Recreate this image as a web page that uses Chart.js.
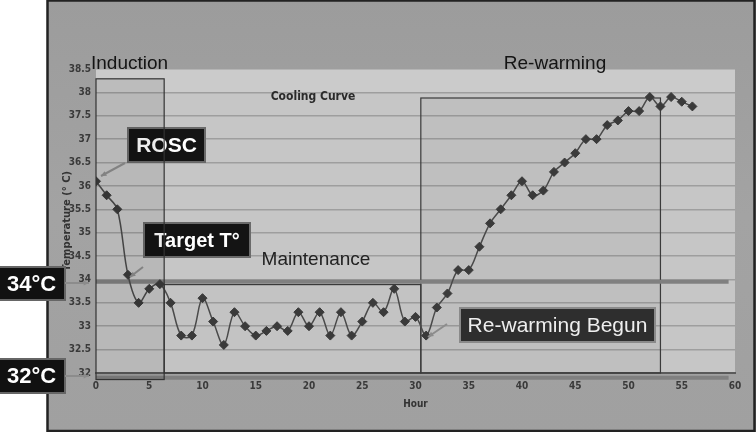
<!DOCTYPE html>
<html>
<head>
<meta charset="utf-8">
<script src="https://cdn.jsdelivr.net/npm/chart.js@4.4.0/dist/chart.umd.min.js"></script>
<style>
  html, body { margin: 0; padding: 0; background: #fff; }
  #wrap { width: 756px; height: 432px; position: relative; }
</style>
</head>
<body>
<div id="wrap"><canvas id="chart" width="756" height="432"></canvas></div>
<script>
// Cooling curve - temperature per hour
const hours = [0, 1, 2, 3, 4, 5, 6, 7, 8, 9, 10, 11, 12, 13, 14, 15, 16, 17, 18, 19, 20,
  21, 22, 23, 24, 25, 26, 27, 28, 29, 30, 31, 32, 33, 34, 35, 36, 37, 38, 39, 40,
  41, 42, 43, 44, 45, 46, 47, 48, 49, 50, 51, 52, 53, 54, 55, 56];
const temps = [36.1, 35.8, 35.5, 34.1, 33.5, 33.8, 33.9, 33.5, 32.8, 32.8, 33.6,
  33.1, 32.6, 33.3, 33.0, 32.8, 32.9, 33.0, 32.9, 33.3, 33.0,
  33.3, 32.8, 33.3, 32.8, 33.1, 33.5, 33.3, 33.8, 33.1, 33.2,
  32.8, 33.4, 33.7, 34.2, 34.2, 34.7, 35.2, 35.5, 35.8, 36.1,
  35.8, 35.9, 36.3, 36.5, 36.7, 37.0, 37.0, 37.3, 37.4, 37.6,
  37.6, 37.9, 37.7, 37.9, 37.8, 37.7];

const xMin = 0, xMax = 60, xStep = 5;
const yMin = 32, yMax = 38.5, yStep = 0.5;

// phase boxes (hours / degrees)
const phaseNames = ['Induction', 'Maintenance', 'Re-warming'];
const phaseStart = [0, 6.4, 30.5];
const phaseEnd = [6.4, 30.5, 53];
const phaseTop = [38.29, 33.89, 37.88];
const phaseBottom = [31.86, 32, 32];

// target temperature lines
const refLines = [33.95, 31.96];

const FONT = "'Liberation Sans', Arial, sans-serif";
const NARROW = "'Liberation Sans Narrow', 'DejaVu Sans Condensed', sans-serif";

function callout(ctx, x, y, w, h, text, font, fill, stroke, color) {
  ctx.save();
  ctx.fillStyle = fill;
  ctx.fillRect(x, y, w, h);
  ctx.strokeStyle = stroke;
  ctx.lineWidth = 2;
  ctx.strokeRect(x, y, w, h);
  ctx.fillStyle = color;
  ctx.font = font;
  ctx.textAlign = 'center';
  ctx.textBaseline = 'middle';
  ctx.fillText(text, x + w / 2, y + h / 2 + 1);
  ctx.restore();
}

function arrow(ctx, x1, y1, x2, y2) {
  ctx.save();
  ctx.strokeStyle = '#8c8c8c';
  ctx.fillStyle = '#8c8c8c';
  ctx.lineWidth = 2;
  ctx.beginPath();
  ctx.moveTo(x1, y1);
  ctx.lineTo(x2, y2);
  ctx.stroke();
  const a = Math.atan2(y2 - y1, x2 - x1);
  ctx.beginPath();
  ctx.moveTo(x2, y2);
  ctx.lineTo(x2 - 6 * Math.cos(a - 0.45), y2 - 6 * Math.sin(a - 0.45));
  ctx.lineTo(x2 - 6 * Math.cos(a + 0.45), y2 - 6 * Math.sin(a + 0.45));
  ctx.closePath();
  ctx.fill();
  ctx.restore();
}

const backdrop = {
  id: 'backdrop',
  beforeDraw(chart) {
    const { ctx, chartArea: a } = chart;
    ctx.save();
    ctx.fillStyle = '#fff';
    ctx.fillRect(0, 0, 756, 432);
    const g = ctx.createLinearGradient(0, 0, 0, 432);
    g.addColorStop(0, '#9c9c9c');
    g.addColorStop(0.5, '#a3a3a3');
    g.addColorStop(1, '#a0a0a0');
    ctx.fillStyle = g;
    ctx.fillRect(47, 0, 709, 432);
    ctx.fillStyle = '#c6c6c6';
    ctx.fillRect(a.left, a.top, a.right - a.left, a.bottom - a.top);
    ctx.fillStyle = '#cbcbcb';
    ctx.fillRect(a.left, a.top, a.right - a.left, chart.scales.y.getPixelForValue(38) - a.top);
    // frame
    ctx.strokeStyle = '#222';
    ctx.lineWidth = 2.5;
    ctx.strokeRect(47.5, 0.5, 707, 430.5);
    ctx.restore();
  },
  beforeDatasetsDraw(chart) {
    const { ctx, scales: { x, y } } = chart;
    ctx.save();
    // maintenance + re-warming boxes
    [1, 2].forEach(i => {
      const l = x.getPixelForValue(phaseStart[i]), r = x.getPixelForValue(phaseEnd[i]);
      const t = y.getPixelForValue(phaseTop[i]), b = y.getPixelForValue(phaseBottom[i]);
      ctx.fillStyle = i === 2 ? 'rgba(0,0,0,0.035)' : 'rgba(0,0,0,0.01)';
      ctx.fillRect(l, t, r - l, b - t);
      ctx.strokeStyle = '#3a3a3a';
      ctx.lineWidth = 1.2;
      ctx.strokeRect(l, t, r - l, b - t);
    });
    // 34 / 32 lines
    refLines.forEach((v, i) => {
      ctx.strokeStyle = '#808080';
      ctx.lineWidth = 4;
      ctx.beginPath();
      ctx.moveTo(x.getPixelForValue(0), y.getPixelForValue(v) + (i === 1 ? 3 : 0));
      ctx.lineTo(x.getPixelForValue(59.4), y.getPixelForValue(v) + (i === 1 ? 3 : 0));
      ctx.stroke();
    });
    ctx.restore();
  },
  afterDatasetsDraw(chart) {
    const { ctx, scales: { x, y } } = chart;
    // callouts
    callout(ctx, 128, 128, 77, 34, 'ROSC', 'bold 21px ' + FONT, '#141414', '#6a6a6a', '#fff');
    arrow(ctx, 125, 163, 101, 176);
    callout(ctx, 144, 223, 106, 34, 'Target T°', 'bold 20px ' + FONT, '#141414', '#6a6a6a', '#fff');
    arrow(ctx, 143, 267, 130, 277);
    callout(ctx, 460, 308, 195, 34, 'Re-warming Begun', '21px ' + FONT, '#2e2e2e', '#8a8a8a', '#eee');
    arrow(ctx, 447, 324, 428, 337);
    callout(ctx, -2, 267, 67, 33, '34°C', 'bold 22px ' + FONT, '#111', '#666', '#fff');
    arrow(ctx, 65, 283, 89, 283);
    callout(ctx, -2, 359, 67, 34, '32°C', 'bold 22px ' + FONT, '#111', '#666', '#fff');
    arrow(ctx, 65, 376, 89, 376);

    // induction box drawn over the callouts
    ctx.save();
    const l = x.getPixelForValue(phaseStart[0]), r = x.getPixelForValue(phaseEnd[0]);
    const t = y.getPixelForValue(phaseTop[0]), b = y.getPixelForValue(phaseBottom[0]);
    ctx.fillStyle = 'rgba(0,0,0,0.07)';
    ctx.fillRect(l, t, r - l, b - t);
    ctx.strokeStyle = '#333';
    ctx.lineWidth = 1.2;
    ctx.strokeRect(l, t, r - l, b - t);

    // phase labels
    ctx.fillStyle = '#141414';
    ctx.font = '19px ' + FONT;
    ctx.textBaseline = 'middle';
    ctx.textAlign = 'left';
    ctx.fillText(phaseNames[0], 91, 64);
    ctx.textAlign = 'center';
    ctx.fillText(phaseNames[2], 555, 64);
    ctx.fillStyle = '#222';
    ctx.fillText(phaseNames[1], 316, 260);
    ctx.font = 'bold 12px ' + NARROW;
    ctx.fillStyle = '#2a2a2a';
    ctx.fillText('Cooling Curve', 313, 97);
    ctx.restore();
  }
};

new Chart(document.getElementById('chart'), {
  type: 'line',
  data: {
    datasets: [{
      label: 'Temperature',
      data: hours.map((h, i) => ({ x: h, y: temps[i] })),
      borderColor: '#4a4a4a',
      borderWidth: 1.5,
      tension: 0.35,
      pointStyle: 'rectRot',
      pointRadius: 4.5,
      pointBackgroundColor: '#3a3a3a',
      pointBorderColor: '#3a3a3a',
      pointBorderWidth: 1
    }]
  },
  options: {
    responsive: false,
    animation: false,
    devicePixelRatio: 1,
    layout: { padding: { left: 56, top: 69, right: 21, bottom: 20 } },
    plugins: { legend: { display: false }, tooltip: { enabled: false } },
    scales: {
      x: {
        type: 'linear',
        min: xMin,
        max: xMax,
        afterFit: s => { s.height = 39; },
        afterBuildTicks: s => { s.ticks = []; for (let v = xMin; v <= xMax; v += xStep) s.ticks.push({ value: v }); },
        grid: { display: false, drawTicks: false },
        border: { display: true, color: '#5a5a5a', width: 2 },
        ticks: { color: '#3a3a3a', font: { family: NARROW, size: 10, weight: 'bold' }, padding: 7, maxRotation: 0 },
        title: { display: true, text: 'Hour', color: '#333', font: { family: NARROW, size: 10, weight: 'bold' }, padding: { top: 0, bottom: 2 } }
      },
      y: {
        min: yMin,
        max: yMax,
        afterFit: s => { s.width = 40; },
        afterBuildTicks: s => { s.ticks = []; for (let v = yMin; v <= yMax + 1e-9; v += yStep) s.ticks.push({ value: +v.toFixed(1) }); },
        grid: { color: '#9e9e9e', lineWidth: 1.5, drawTicks: false },
        border: { display: false },
        ticks: { color: '#3a3a3a', font: { family: NARROW, size: 10, weight: 'bold' }, padding: 5, callback: v => String(v) },
        title: { display: true, text: 'Temperature (° C)', color: '#333', font: { family: 'DejaVu Sans', size: 10, weight: 'bold' }, padding: { top: 5, bottom: 0 } }
      }
    }
  },
  plugins: [backdrop]
});
</script>
</body>
</html>
